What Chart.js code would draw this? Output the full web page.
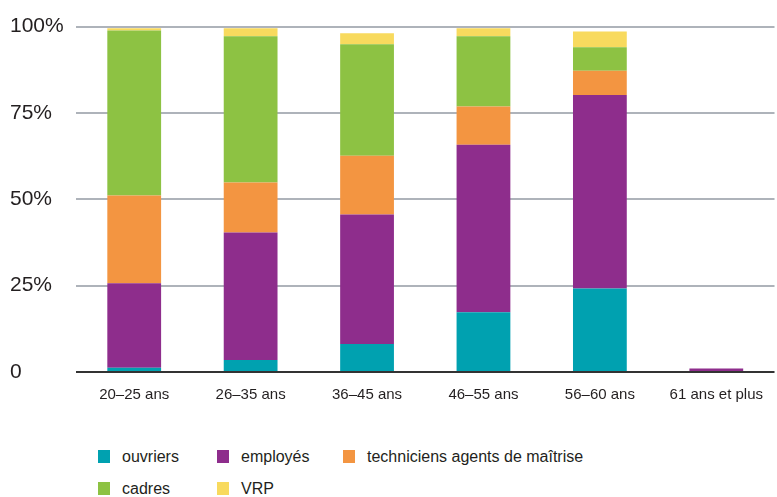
<!DOCTYPE html>
<html>
<head>
<meta charset="utf-8">
<script src="https://cdn.jsdelivr.net/npm/chart.js@4/dist/chart.umd.min.js"></script>
<style>
  body { margin: 0; background: #fff; font-family: "Liberation Sans", Arial, sans-serif; }
  #wrap { position: relative; width: 777px; height: 412px; }
  #legend {
    display: grid;
    grid-template-columns: 119px 126px 260px;
    row-gap: 13px;
    padding-left: 98px;
    margin-top: 35px;
    color: #231f20;
    font-size: 16px;
  }
  .item { display: flex; align-items: center; height: 19px; }
  .box { width: 12px; height: 13px; margin-right: 12px; flex: none; }
</style>
</head>
<body>
<div id="wrap"><canvas id="chart"></canvas></div>
<div id="legend"></div>
<script>
const categories = ["20–25 ans", "26–35 ans", "36–45 ans", "46–55 ans", "56–60 ans", "61 ans et plus"];
const yTicks = [0, 25, 50, 75, 100];

// parts in % of each age group
const ouvriers    = [1.2, 3.5, 8.1, 17.3, 24.2, 0];
const employes    = [24.5, 36.9, 37.5, 48.5, 56.0, 1.0];
const techniciens = [25.4, 14.5, 17.0, 11.1, 7.0, 0];
const cadres      = [47.8, 42.3, 32.3, 20.3, 6.8, 0];
const vrp         = [0.6, 2.3, 3.2, 2.3, 4.6, 0];

const series = [
  { label: "ouvriers", data: ouvriers, color: "#00a1b0" },
  { label: "employés", data: employes, color: "#8e2d8c" },
  { label: "techniciens agents de maîtrise", data: techniciens, color: "#f39541" },
  { label: "cadres", data: cadres, color: "#8dc243" },
  { label: "VRP", data: vrp, color: "#f8da5e" }
];

const FONT = "'Liberation Sans', Arial, sans-serif";

new Chart(document.getElementById("chart"), {
  type: "bar",
  data: {
    labels: categories,
    datasets: series.map(s => ({
      label: s.label,
      data: s.data,
      backgroundColor: s.color,
      borderWidth: 0,
      barPercentage: 0.462,
      categoryPercentage: 1
    }))
  },
  options: {
    responsive: true,
    maintainAspectRatio: false,
    animation: false,
    layout: { padding: { top: 13, right: 0, left: 10, bottom: 0 } },
    plugins: { legend: { display: false }, tooltip: { enabled: false } },
    scales: {
      x: {
        stacked: true,
        grid: { display: false, drawTicks: false },
        border: { display: false },
        ticks: { color: "#231f20", font: { family: FONT, size: 15 }, padding: 14, maxRotation: 0 },
        afterFit(scale) { scale.height = 40; }
      },
      y: {
        stacked: true,
        min: 0,
        max: 100,
        afterBuildTicks(scale) { scale.ticks = yTicks.map(v => ({ value: v })); },
        grid: {
          color: ctx => (ctx.tick && ctx.tick.value === 0 ? "#333333" : "#aeb3ba"),
          lineWidth: 2,
          drawTicks: false
        },
        border: { display: false },
        ticks: {
          color: "#231f20",
          font: { family: FONT, size: 21 },
          padding: 14,
          crossAlign: "far",
          callback: v => (v === 0 ? "0" : v + "%")
        },
        afterFit(scale) { scale.width = 66; }
      }
    }
  }
});

// legend laid out in columns like the original
const legend = document.getElementById("legend");
series.forEach(s => {
  const el = document.createElement("div");
  el.className = "item";
  el.innerHTML = `<span class="box" style="background:${s.color}"></span><span>${s.label}</span>`;
  legend.appendChild(el);
});
</script>
</body>
</html>
